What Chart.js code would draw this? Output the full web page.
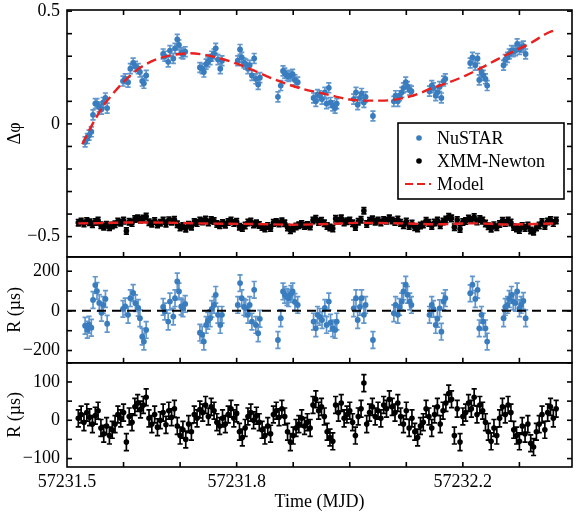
<!DOCTYPE html>
<html>
<head>
<meta charset="utf-8">
<script src="https://cdn.jsdelivr.net/npm/chart.js@4.4.0/dist/chart.umd.min.js"></script>
<style>
  html, body { margin: 0; padding: 0; background: #fff; }
  #wrap { position: relative; width: 576px; height: 513px; }
</style>
</head>
<body>
<div id="wrap"><canvas id="chart"></canvas></div>
<script>
// NuSTAR phase residuals (one block per orbit)
const nuTime = [
  57231.532, 57231.536, 57231.539, 57231.543, 57231.546, 57231.550, 57231.553, 57231.557, 57231.561, 57231.564, 57231.568, 57231.571,
  57231.599, 57231.603, 57231.608, 57231.612, 57231.617, 57231.621, 57231.626, 57231.629, 57231.633, 57231.636, 57231.640,
  57231.670, 57231.673, 57231.679, 57231.682, 57231.688, 57231.691, 57231.695, 57231.698, 57231.702, 57231.705, 57231.709,
  57231.735, 57231.739, 57231.742, 57231.746, 57231.749, 57231.753, 57231.756, 57231.760, 57231.763, 57231.767, 57231.771, 57231.774,
  57231.802, 57231.806, 57231.809, 57231.813, 57231.816, 57231.820, 57231.823, 57231.827, 57231.831, 57231.834, 57231.838, 57231.841,
  57231.873, 57231.878, 57231.882, 57231.885, 57231.889, 57231.892, 57231.896, 57231.899, 57231.903, 57231.908,
  57231.936, 57231.940, 57231.943, 57231.947, 57231.951, 57231.956, 57231.959, 57231.963, 57231.966, 57231.970, 57231.974, 57231.977,
  57232.007, 57232.011, 57232.014, 57232.018, 57232.021, 57232.025, 57232.028, 57232.041,
  57232.078, 57232.081, 57232.085, 57232.088, 57232.092, 57232.095, 57232.099, 57232.102, 57232.106, 57232.109,
  57232.141, 57232.145, 57232.148, 57232.152, 57232.155, 57232.159, 57232.162, 57232.166, 57232.169,
  57232.213, 57232.217, 57232.222, 57232.226, 57232.229, 57232.233, 57232.236, 57232.240, 57232.243,
  57232.272, 57232.275, 57232.279, 57232.282, 57232.286, 57232.289, 57232.293, 57232.296, 57232.300, 57232.303, 57232.307, 57232.311
];
const nuPhase = [
  -0.08, -0.065, -0.05, -0.035, 0.04, 0.09, 0.09, 0.075, 0.065, 0.095, 0.115, 0.07,
  0.19, 0.2, 0.185, 0.245, 0.27, 0.255, 0.245, 0.23, 0.19, 0.18, 0.215,
  0.31, 0.3, 0.275, 0.325, 0.29, 0.335, 0.375, 0.35, 0.315, 0.31, 0.32,
  0.25, 0.245, 0.23, 0.265, 0.275, 0.285, 0.3, 0.31, 0.335, 0.285, 0.245, 0.28,
  0.28, 0.33, 0.295, 0.27, 0.265, 0.245, 0.26, 0.215, 0.29, 0.2, 0.175, 0.205,
  0.12, 0.17, 0.235, 0.225, 0.215, 0.21, 0.215, 0.22, 0.195, 0.185,
  0.115, 0.1, 0.13, 0.125, 0.11, 0.14, 0.09, 0.16, 0.095, 0.08, 0.07, 0.09,
  0.11, 0.14, 0.085, 0.115, 0.135, 0.095, 0.12, 0.035,
  0.1, 0.125, 0.1, 0.125, 0.14, 0.16, 0.185, 0.165, 0.15, 0.145,
  0.145, 0.17, 0.16, 0.125, 0.14, 0.165, 0.115, 0.19, 0.2,
  0.27, 0.295, 0.26, 0.29, 0.195, 0.23, 0.215, 0.2, 0.17,
  0.26, 0.285, 0.295, 0.31, 0.325, 0.32, 0.325, 0.355, 0.33, 0.34, 0.345, 0.31
];
const nuRes = [
  -75, -95, -70, -85, 55, 130, 100, 40, -10, 30, 60, -65,
  10, 22, -20, 64, 90, 39, 15, -37, -130, -155, -96,
  20, -3, -54, 47, -29, 64, 148, 98, 22, 13, 35,
  -110, -120, -155, -71, -50, -37, 10, 30, 81, -20, -71, -20,
  30, 140, 64, 20, 13, -20, 30, -54, 106, -71, -113, -40,
  -147, -37, 98, 81, 70, 64, 85, 98, 45, 30,
  -54, -88, -20, -30, -46, 15, -71, 47, -60, -88, -96, -54,
  13, 64, -46, 20, 64, -20, 30, -147,
  -12, 30, -20, 20, 47, 98, 132, 81, 47, 30,
  -20, 30, 10, -71, -40, 13, -105, 47, 64,
  89, 132, 60, 106, -88, -20, -54, -88, -155,
  -37, 20, 30, 60, 81, 47, 40, 98, 13, 30, 50, -37
];
const nuPhaseErr = 0.022;
const nuResErr = 42;

// XMM-Newton
const xmmTime = [
  57231.520, 57231.525, 57231.530, 57231.535, 57231.540, 57231.545, 57231.550, 57231.555, 57231.560, 57231.565,
  57231.570, 57231.575, 57231.580, 57231.585, 57231.590, 57231.595, 57231.600, 57231.605, 57231.610, 57231.615,
  57231.620, 57231.625, 57231.630, 57231.635, 57231.640, 57231.645, 57231.650, 57231.655, 57231.660, 57231.665,
  57231.670, 57231.675, 57231.680, 57231.685, 57231.690, 57231.695, 57231.700, 57231.705, 57231.710, 57231.715,
  57231.720, 57231.725, 57231.730, 57231.735, 57231.740, 57231.745, 57231.750, 57231.755, 57231.760, 57231.765,
  57231.770, 57231.775, 57231.780, 57231.785, 57231.790, 57231.795, 57231.800, 57231.805, 57231.810, 57231.815,
  57231.820, 57231.825, 57231.830, 57231.835, 57231.840, 57231.845, 57231.850, 57231.855, 57231.860, 57231.865,
  57231.870, 57231.875, 57231.880, 57231.885, 57231.890, 57231.895, 57231.900, 57231.905, 57231.910, 57231.915,
  57231.920, 57231.925, 57231.930, 57231.935, 57231.940, 57231.945, 57231.950, 57231.955, 57231.960, 57231.965,
  57231.970, 57231.975, 57231.980, 57231.985, 57231.990, 57231.995, 57232.000, 57232.005, 57232.010, 57232.015,
  57232.020, 57232.025, 57232.030, 57232.035, 57232.040, 57232.045, 57232.050, 57232.055, 57232.060, 57232.065,
  57232.070, 57232.075, 57232.080, 57232.085, 57232.090, 57232.095, 57232.100, 57232.105, 57232.110, 57232.115,
  57232.120, 57232.125, 57232.130, 57232.135, 57232.140, 57232.145, 57232.150, 57232.155, 57232.160, 57232.165,
  57232.170, 57232.175, 57232.180, 57232.185, 57232.190, 57232.195, 57232.200, 57232.205, 57232.210, 57232.215,
  57232.220, 57232.225, 57232.230, 57232.235, 57232.240, 57232.245, 57232.250, 57232.255, 57232.260, 57232.265,
  57232.270, 57232.275, 57232.280, 57232.285, 57232.290, 57232.295, 57232.300, 57232.305, 57232.310, 57232.315,
  57232.320, 57232.325, 57232.330, 57232.335, 57232.340, 57232.345, 57232.350, 57232.355, 57232.360, 57232.365
];
const xmmPhase = [
  -0.438, -0.433, -0.442, -0.431, -0.436, -0.445, -0.435, -0.429, -0.449, -0.456,
  -0.447, -0.458, -0.451, -0.445, -0.433, -0.438, -0.429, -0.475, -0.434, -0.440,
  -0.422, -0.418, -0.425, -0.420, -0.411, -0.436, -0.443, -0.431, -0.446, -0.438,
  -0.429, -0.443, -0.427, -0.434, -0.425, -0.445, -0.460, -0.453, -0.465, -0.447,
  -0.456, -0.435, -0.440, -0.429, -0.433, -0.424, -0.437, -0.426, -0.431, -0.444,
  -0.449, -0.440, -0.447, -0.435, -0.428, -0.440, -0.434, -0.456, -0.462, -0.451,
  -0.437, -0.433, -0.446, -0.441, -0.448, -0.457, -0.464, -0.453, -0.462, -0.439,
  -0.435, -0.442, -0.432, -0.441, -0.460, -0.472, -0.464, -0.455, -0.450, -0.444,
  -0.453, -0.448, -0.455, -0.428, -0.421, -0.435, -0.430, -0.441, -0.453, -0.459,
  -0.464, -0.421, -0.430, -0.419, -0.437, -0.432, -0.428, -0.441, -0.457, -0.434,
  -0.425, -0.385, -0.444, -0.430, -0.423, -0.434, -0.428, -0.437, -0.426, -0.430,
  -0.419, -0.428, -0.435, -0.424, -0.439, -0.449, -0.433, -0.453, -0.442, -0.458,
  -0.464, -0.451, -0.446, -0.430, -0.439, -0.453, -0.437, -0.428, -0.449, -0.433,
  -0.424, -0.412, -0.419, -0.458, -0.426, -0.466, -0.435, -0.431, -0.420, -0.426,
  -0.413, -0.433, -0.422, -0.429, -0.442, -0.454, -0.465, -0.449, -0.458, -0.444,
  -0.430, -0.439, -0.428, -0.437, -0.457, -0.464, -0.471, -0.453, -0.462, -0.451,
  -0.473, -0.478, -0.460, -0.451, -0.435, -0.453, -0.433, -0.426, -0.440, -0.428
];
const xmmRes = [
  5, 15, -5, 20, 8, -10, 12, 25, -20, -35,
  -15, -40, -25, -10, 15, 5, 20, -57, 10, -5,
  35, 45, 28, 40, 60, 5, -10, 15, -18, 0,
  20, -12, 25, 8, 30, -15, -40, -25, -50, -10,
  -30, 15, 5, 28, 20, 40, 10, 35, 25, -5,
  -15, 5, -10, 15, 30, 5, 18, -30, -45, -20,
  10, 20, 0, 12, -5, -25, -40, -15, -35, 15,
  25, 8, 30, 10, -30, -57, -40, -20, -10, 5,
  -15, -5, -20, 40, 55, 25, 35, 10, -30, -45,
  -55, 40, 20, 45, 5, 15, 25, -5, -40, 10,
  30, 97, -10, 20, 35, 10, 25, 5, 40, 30,
  55, 35, 20, 45, 10, -10, 25, -20, 5, -30,
  -45, -15, -5, 30, 10, -20, 15, 35, -10, 25,
  45, 70, 55, -40, 30, -57, 10, 20, 45, 30,
  60, 15, 40, 25, -5, -30, -55, -20, -40, 5,
  35, 15, 40, 20, -25, -40, -55, -15, -35, -10,
  -60, -70, -30, -10, 15, -25, 20, 35, 5, 30
];
const xmmPhaseErr = 0.014;
const xmmResErr = 22;

// timing model curves
const nuModelTime = [
  57231.527, 57231.541, 57231.552, 57231.564, 57231.576, 57231.594, 57231.612, 57231.635, 57231.659, 57231.686,
  57231.718, 57231.744, 57231.771, 57231.799, 57231.829, 57231.859, 57231.889, 57231.917, 57231.947, 57231.974,
  57232.000, 57232.026, 57232.056, 57232.085, 57232.115, 57232.145, 57232.173, 57232.203, 57232.233, 57232.261,
  57232.291, 57232.321, 57232.349, 57232.362
];
const nuModelPhase = [
  -0.09, -0.02, 0.03, 0.08, 0.118, 0.17, 0.215, 0.258, 0.287, 0.305,
  0.313, 0.306, 0.29, 0.268, 0.238, 0.205, 0.177, 0.155, 0.138, 0.122,
  0.108, 0.103, 0.103, 0.11, 0.128, 0.158, 0.182, 0.212, 0.249, 0.286,
  0.323, 0.36, 0.402, 0.415
];
const xmmModelTime = [57231.520, 57231.560, 57231.620, 57231.700, 57231.750, 57231.830, 57231.900, 57231.960,
  57232.020, 57232.090, 57232.150, 57232.220, 57232.280, 57232.330, 57232.365];
const xmmModelPhase = [-0.441, -0.440, -0.437, -0.439, -0.442, -0.444, -0.447, -0.444,
  -0.439, -0.441, -0.445, -0.441, -0.446, -0.444, -0.441];

// axes
const timeRange = [57231.5, 57232.393];
const timeLabels = [57231.5, 57231.8, 57232.2];
const phaseRange = [-0.59, 0.505];
const phaseLabels = [0.5, 0, -0.5];
const nuResRange = [-262, 272];
const nuResLabels = [200, 0, -200];
const xmmResRange = [-122, 150];
const xmmResLabels = [100, 0, -100];

const BLUE = '#3a7dbf';
const BLUE_BAR = 'rgba(58,125,191,0.8)';
const RED = '#e8201e';
const FONT = 'Liberation Serif';

Chart.defaults.font.family = FONT;
Chart.defaults.font.size = 18;
Chart.defaults.color = '#000';

function pts(xs, ys) {
  return xs.map((x, i) => ({ x: x, y: ys[i] }));
}

function fmt(v) {
  return v < 0 ? '\u2212' + Math.abs(v) : String(v);
}

function labelCb(labels, tol) {
  return function (v) {
    const hit = labels.find(l => Math.abs(l - v) < tol);
    return hit === undefined ? '' : fmt(hit);
  };
}

function yAxis(range, step, labels, weight, title) {
  return {
    type: 'linear',
    position: 'left',
    stack: 'panels',
    stackWeight: weight,
    min: range[0],
    max: range[1],
    grid: { display: false, drawTicks: false },
    border: { display: false },
    ticks: {
      stepSize: step,
      includeBounds: false,
      autoSkip: false,
      padding: 7,
      callback: labelCb(labels, step / 1000)
    },
    title: { display: true, text: title, padding: 4, font: { size: 18 } },
    afterFit(s) {
      s.width = 67;
      s.paddingTop = 0;
      s.paddingBottom = 0;
    }
  };
}

// vertical error bars drawn under the markers
const errorBars = {
  id: 'errorBars',
  beforeDatasetsDraw(chart) {
    const ctx = chart.ctx;
    const a = chart.chartArea;
    ctx.save();
    ctx.beginPath();
    ctx.rect(a.left, a.top, a.right - a.left, a.bottom - a.top);
    ctx.clip();
    chart.data.datasets.forEach((ds, i) => {
      if (ds.errorSize === undefined) return;
      const meta = chart.getDatasetMeta(i);
      const ys = chart.scales[ds.yAxisID];
      ctx.strokeStyle = ds.barColor;
      ctx.lineWidth = 1.7;
      ctx.beginPath();
      meta.data.forEach((p, j) => {
        const v = ds.data[j].y;
        const y1 = ys.getPixelForValue(v - ds.errorSize);
        const y2 = ys.getPixelForValue(v + ds.errorSize);
        ctx.moveTo(p.x, y1); ctx.lineTo(p.x, y2);
        ctx.moveTo(p.x - 2.6, y1); ctx.lineTo(p.x + 2.6, y1);
        ctx.moveTo(p.x - 2.6, y2); ctx.lineTo(p.x + 2.6, y2);
      });
      ctx.stroke();
    });
    ctx.restore();
  }
};

// panel frames with inward ticks
const frames = {
  id: 'frames',
  afterDatasetsDraw(chart) {
    const ctx = chart.ctx;
    const a = chart.chartArea;
    const xs = chart.scales.x;
    ctx.save();
    ctx.strokeStyle = '#000';
    ctx.lineWidth = 1.6;
    const seg = (x1, y1, x2, y2) => { ctx.beginPath(); ctx.moveTo(x1, y1); ctx.lineTo(x2, y2); ctx.stroke(); };
    ['yPhase', 'yResNu', 'yResX'].forEach((id, k) => {
      const s = chart.scales[id];
      ctx.strokeRect(a.left, s.top, a.right - a.left, s.bottom - s.top);
      s.ticks.forEach(t => {
        const y = s.getPixelForValue(t.value);
        seg(a.left, y, a.left + 5, y);
        seg(a.right - 5, y, a.right, y);
      });
      xs.ticks.forEach(t => {
        const x = xs.getPixelForValue(t.value);
        if (x <= a.left + 1 || x >= a.right - 1) return;
        seg(x, s.bottom, x, s.bottom - 5);
        if (k === 0) seg(x, s.top, x, s.top + 5);
      });
    });
    ctx.restore();
  }
};

// legend box inside the top panel
const legendBox = {
  id: 'legendBox',
  afterDraw(chart) {
    const ctx = chart.ctx;
    const a = chart.chartArea;
    const left = a.right - 174, top = a.top + 113, w = 166, h = 76;
    ctx.save();
    ctx.fillStyle = '#fff';
    ctx.fillRect(left, top, w, h);
    ctx.strokeStyle = '#000';
    ctx.lineWidth = 1.6;
    ctx.strokeRect(left, top, w, h);
    const entries = chart.data.datasets.filter(d => d.legendRow !== undefined);
    ctx.font = '18px "' + FONT + '"';
    ctx.textBaseline = 'middle';
    entries.forEach(d => {
      const y = top + 15 + d.legendRow * 23;
      if (d.type === 'line') {
        ctx.strokeStyle = d.borderColor;
        ctx.lineWidth = 2.2;
        ctx.setLineDash([8, 4]);
        ctx.beginPath(); ctx.moveTo(left + 7, y); ctx.lineTo(left + 33, y); ctx.stroke();
        ctx.setLineDash([]);
      } else {
        ctx.fillStyle = d.backgroundColor;
        ctx.beginPath(); ctx.arc(left + 21, y, 2.8, 0, Math.PI * 2); ctx.fill();
      }
      ctx.fillStyle = '#000';
      ctx.fillText(d.label, left + 39, y + 1);
    });
    ctx.restore();
  }
};

new Chart(document.getElementById('chart'), {
  type: 'scatter',
  data: {
    datasets: [
      { type: 'line', label: 'Model', legendRow: 2, data: pts(nuModelTime, nuModelPhase), yAxisID: 'yPhase',
        borderColor: RED, borderWidth: 2.4, borderDash: [10, 5], pointRadius: 0, fill: false, cubicInterpolationMode: 'monotone' },
      { type: 'line', label: 'Model XMM', data: pts(xmmModelTime, xmmModelPhase), yAxisID: 'yPhase',
        borderColor: RED, borderWidth: 2.4, borderDash: [10, 5], pointRadius: 0, fill: false, cubicInterpolationMode: 'monotone' },
      { label: 'NuSTAR', legendRow: 0, data: pts(nuTime, nuPhase), yAxisID: 'yPhase', errorSize: nuPhaseErr,
        backgroundColor: BLUE, barColor: BLUE_BAR, borderWidth: 0, pointRadius: 2.9 },
      { label: 'XMM-Newton', legendRow: 1, data: pts(xmmTime, xmmPhase), yAxisID: 'yPhase', errorSize: xmmPhaseErr,
        backgroundColor: '#000', barColor: '#000', borderWidth: 0, pointRadius: 2.8 },
      { type: 'line', label: 'zero', data: pts(timeRange, [0, 0]), yAxisID: 'yResNu',
        borderColor: '#000', borderWidth: 2, borderDash: [9, 6], pointRadius: 0, fill: false },
      { label: 'NuSTAR R', data: pts(nuTime, nuRes), yAxisID: 'yResNu', errorSize: nuResErr,
        backgroundColor: BLUE, barColor: BLUE_BAR, borderWidth: 0, pointRadius: 2.9 },
      { label: 'XMM R', data: pts(xmmTime, xmmRes), yAxisID: 'yResX', errorSize: xmmResErr,
        backgroundColor: '#000', barColor: '#000', borderWidth: 0, pointRadius: 2.8 }
    ]
  },
  options: {
    responsive: true,
    maintainAspectRatio: false,
    animation: false,
    layout: { padding: { left: 0, right: 3, top: 10, bottom: 0 } },
    plugins: { legend: { display: false }, tooltip: { enabled: false } },
    scales: {
      x: {
        type: 'linear',
        min: timeRange[0],
        max: timeRange[1],
        grid: { display: false, drawTicks: false },
        border: { display: false },
        ticks: {
          stepSize: 0.1,
          includeBounds: false,
          autoSkip: false,
          maxRotation: 0,
          padding: 4,
          callback: labelCb(timeLabels, 0.001)
        },
        title: { display: true, text: 'Time (MJD)', padding: { top: 0, bottom: 0 } },
        afterFit(s) {
          s.height = 46;
          s.paddingLeft = 0;
          s.paddingRight = 0;
        }
      },
      // stacked panels are laid out bottom-up in definition order
      yResX: yAxis(xmmResRange, 50, xmmResLabels, 104, 'R (\u00b5s)'),
      yResNu: yAxis(nuResRange, 100, nuResLabels, 105.7, 'R (\u00b5s)'),
      yPhase: yAxis(phaseRange, 0.1, phaseLabels, 246.5, '\u0394\u03c6')
    }
  },
  plugins: [errorBars, frames, legendBox]
});
</script>
</body>
</html>
